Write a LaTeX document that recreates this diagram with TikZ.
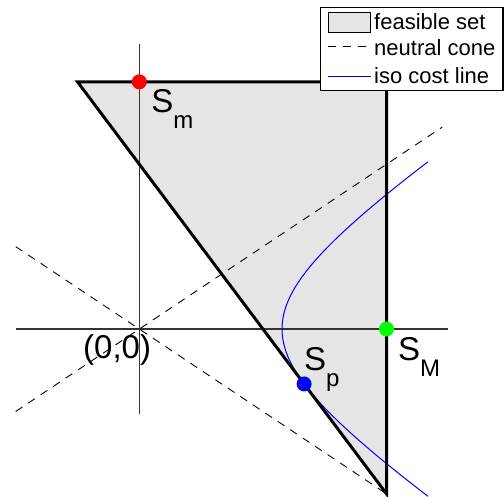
\documentclass[tikz,border=0pt]{standalone}
\usepackage{fontspec}
\setmainfont{Liberation Sans}
\newcommand\mysub[1]{\raisebox{-16pt}{\fontsize{24}{24}\selectfont #1}}
\begin{document}
\begin{tikzpicture}[x=61.8pt,y=61.8pt,
  axisline/.style={draw=black!80,line width=1.3pt},
  coneline/.style={draw=black,line width=0.9pt,dash pattern=on 8pt off 7pt},
  isoline/.style={draw=blue,line width=1pt},
  edgeline/.style={draw=black,line width=3pt},
  dot/.style={circle,inner sep=0pt,minimum size=15pt},
  biglabel/.style={font=\fontsize{33}{33}\selectfont,inner sep=0pt,anchor=base west},
  legtext/.style={font=\fontsize{22}{22}\selectfont,inner sep=0pt,anchor=base west}]
\useasboundingbox (-2.254,-2.702) rectangle (5.901,5.324);
\coordinate (A) at (-1,4);
\coordinate (B) at (4,4);
\coordinate (C) at (4,-8/3);
\fill[black!10] (A) -- (B) -- (C) -- cycle;
% axes
\coordinate (xl) at (-2,0); \coordinate (xr) at (5,0);
\coordinate (yb) at (0,-1.37); \coordinate (yt) at (0,4.62);
\draw[axisline] (xl) -- (xr);
\draw[axisline] (yb) -- (yt);
% neutral cone
\coordinate (c1a) at (-2,-4/3); \coordinate (c1b) at (4.9,3.267);
\coordinate (c2a) at (-2,4/3); \coordinate (c2b) at (C);
\draw[coneline] (c1a) -- (c1b);
\draw[coneline] (c2a) -- (c2b);
% iso cost line
\draw[isoline] plot[domain=-1.33:1.33,samples=80,smooth,variable=\t] ({2.3094*cosh(\t)},{1.5396*sinh(\t)});
% triangle edges
\draw[edgeline] (A) -- (B) -- (C) -- cycle;
% points
\node[dot,fill=red] (Sm) at (0,4) {};
\node[dot,fill=green] (SM) at (4,0) {};
\node[dot,fill=blue] (Sp) at (8/3,-8/9) {};
\node[biglabel] (Smlab) at (0.191,3.511) {S\mysub{m}};
\node[biglabel] (Splab) at (2.665,-0.663) {S\mysub{p}};
\node[biglabel] (SMlab) at (4.186,-0.502) {S\mysub{M}};
\node[biglabel] (Olab) at (-0.911,-0.469) {(0,0)};
% legend
\node[draw=black,fill=white,line width=1.3pt,inner sep=0pt,minimum width=2.95*61.8pt,minimum height=1.348*61.8pt,anchor=north west] (leg) at (2.924,5.215) {};
\draw[fill=black!10,line width=0.8pt] (3.054,5.125) rectangle (3.744,4.801);
\coordinate (l2a) at (3.054,4.568); \coordinate (l2b) at (3.744,4.568);
\draw[coneline] (l2a) -- (l2b);
\coordinate (l3a) at (3.054,4.083); \coordinate (l3b) at (3.744,4.083);
\draw[isoline] (l3a) -- (l3b);
\node[legtext] (t1) at (3.798,4.85) {feasible set};
\node[legtext] (t2) at (3.798,4.423) {neutral cone};
\node[legtext] (t3) at (3.798,3.976) {iso cost line};
\end{tikzpicture}
\end{document}
